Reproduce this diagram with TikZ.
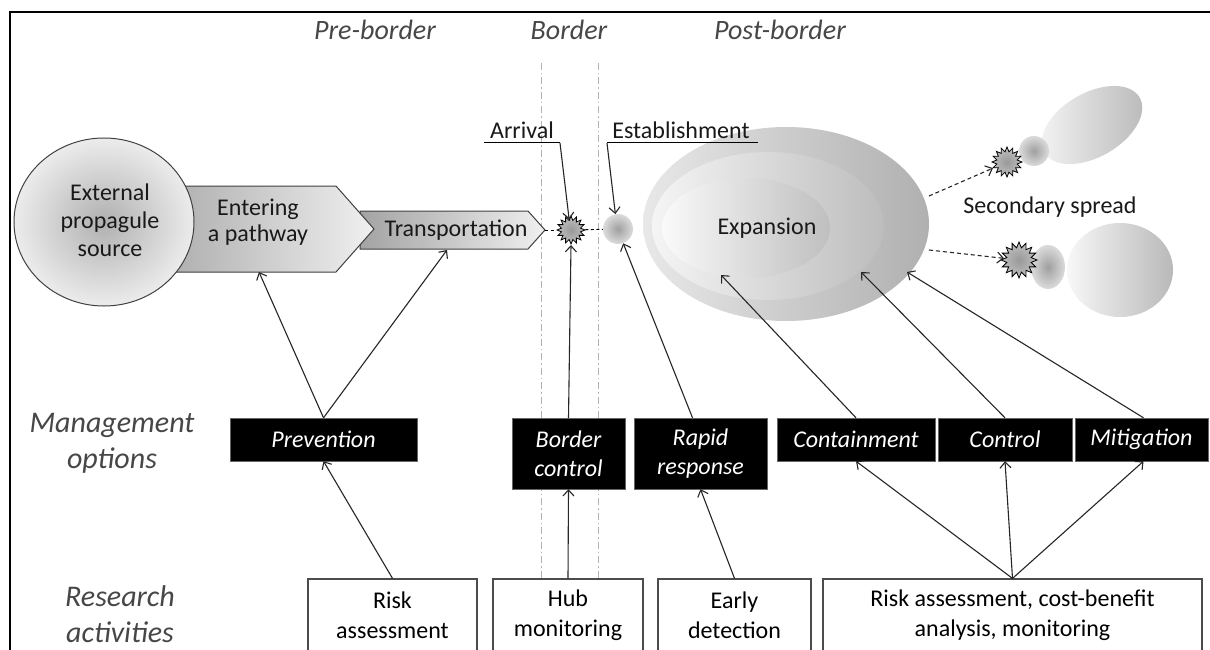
\documentclass[tikz,border=0pt]{standalone}
\usepackage{fontspec}
\setmainfont{Carlito}
\usetikzlibrary{arrows.meta,shapes.geometric}
\begin{document}
\begin{tikzpicture}[x=1pt,y=-1pt,
 conn/.style={line width=1.1pt, black!85, -{Straight Barb[length=6pt,width=11pt]}},
 dconn/.style={conn, dash pattern=on 4pt off 3pt},
 mgmt/.style={fill=black, draw=black!60, text=white, font=\fontsize{24}{29}\selectfont\itshape, align=center, inner sep=0pt},
 research/.style={draw=black!70, line width=1.2pt, fill=white, font=\fontsize{24}{30}\selectfont, align=center, inner sep=0pt},
 header/.style={text=black!72, font=\fontsize{28}{34}\selectfont\itshape},
 rowlabel/.style={text=black!72, font=\fontsize{30}{36}\selectfont\itshape, align=center},
 main/.style={font=\fontsize{24}{26}\selectfont, align=center, text=black!90},
 burst/.style={star, star points=16, star point ratio=1.45, draw=black, line width=0.8pt, shade, inner color=gray!80, outer color=gray!50, inner sep=0pt},
 blob/.style={inner sep=0pt, shade, inner color=gray!75, outer color=gray!28},
]
\useasboundingbox (0,0) rectangle (1210,650);
\fill[white] (0,0) rectangle (1210,650);
\clip (0,0) rectangle (1210,650);

% frame
\draw[line width=2.5pt] (10,650) -- (10,12) -- (1210,12);

% border lines
\draw[gray!60, line width=0.9pt, dash pattern=on 7pt off 3pt on 1.5pt off 3pt] (541,63) -- (541,579);
\draw[gray!60, line width=0.9pt, dash pattern=on 7pt off 3pt on 1.5pt off 3pt] (598,63) -- (598,579);

% headers
\node[header] (hpre) at (375,30) {Pre-border};
\node[header] (hbor) at (569,30) {Border};
\node[header] (hpost) at (780,30) {Post-border};

% transportation arrow shape
\shade[left color=gray!72, right color=gray!12, draw=black!75, line width=1pt]
  (360,211) -- (528,211) -- (545,230) -- (528,249) -- (360,249) -- cycle;
\coordinate (trtip) at (545,230);
\coordinate (trbot) at (447,250);
\node[main] (trtext) at (456,230) {Transportation};

% entering a pathway shape
\shade[left color=gray!68, right color=gray!12, draw=black!75, line width=1pt]
  (150,186) -- (336,186) -- (374,229) -- (336,272) -- (150,272) -- cycle;
\coordinate (entbot) at (259,272);
\node[main] (enttext) at (258,222) {Entering\\a pathway};

% external source
\node[ellipse, minimum width=180, minimum height=168, draw=black!75, line width=1pt, shade, inner color=gray!62, outer color=gray!15] (src) at (104,222) {};
\node[main, font=\fontsize{24}{28}\selectfont] (srctext) at (110,220) {External\\propagule\\source};

% expansion
\shade[left color=gray!18, right color=gray!62] (786,224) ellipse [x radius=143, y radius=97];
\shade[left color=gray!8, right color=gray!52] (768,226) ellipse [x radius=116, y radius=74];
\shade[left color=gray!4, right color=gray!50] (746,228) ellipse [x radius=84, y radius=50];
\node[main] (exp) at (767,228) {Expansion};
\coordinate (e1) at (721,275);
\coordinate (e2) at (861,272);
\coordinate (e3) at (907,272);

% arrival & establishment
\node[circle, minimum size=30, blob] (est) at (618,229) {};
\node[burst, minimum size=28] (arr) at (571,230) {};
\draw[line width=0.9pt, dash pattern=on 3pt off 2.5pt] (trtip) -- (arr);
\draw[line width=0.9pt, dash pattern=on 3pt off 2.5pt] (arr) -- (est);

\node[main] (arrl) at (522,130) {Arrival};
\coordinate (arrul0) at (484,143);
\coordinate (arrul) at (560,143);
\draw[line width=1pt] (arrul0) -- (arrul);
\draw[conn] (arrul) -- (arr.100);

\node[main] (estl) at (681,130) {Establishment};
\coordinate (estul) at (607,143);
\coordinate (estul1) at (758,143);
\draw[line width=1pt] (estul) -- (estul1);
\draw[conn] (estul) -- (est.100);

% secondary spread
\shade[rotate around={30:(1092,125)}, left color=gray!8, right color=gray!55] (1092,125) ellipse [x radius=55, y radius=32];
\shade[left color=gray!6, right color=gray!55] (1120,270) ellipse [x radius=53, y radius=47];
\node[circle, minimum size=30, blob] (s1c) at (1034,151) {};
\node[ellipse, minimum width=34, minimum height=44, blob] (s2c) at (1048,267) {};
\node[burst, minimum size=30] (s1) at (1007,162) {};
\node[burst, minimum size=36] (s2) at (1019,260) {};
\coordinate (sp1) at (929,196);
\coordinate (sp2) at (929,250);
\draw[dconn] (sp1) -- (s1);
\draw[dconn] (sp2) -- (s2);
\node[main] (sec) at (1050,207) {Secondary spread};

% row labels
\node[rowlabel] (mo) at (112,443) {Management\\options};
\node[rowlabel] (ra) at (120,614) {Research\\activities};

% management options
\node[mgmt, minimum width=187, minimum height=43] (prev) at (323.5,439.5) {Prevention};
\node[mgmt, minimum width=113, minimum height=71] (bc) at (568.5,453.5) {Border\\control};
\node[mgmt, minimum width=133, minimum height=71] (rr) at (700.5,453.5) {Rapid\\response};
\node[mgmt, minimum width=158, minimum height=43] (cont) at (856,439.5) {Containment};
\node[mgmt, minimum width=134, minimum height=43] (ctrl) at (1005,439.5) {Control};
\node[mgmt, minimum width=133, minimum height=43] (mit) at (1141.5,439.5) {Mitigation};

% research activities
\node[research, minimum width=169, minimum height=73] (risk) at (392.5,615.5) {Risk\\assessment};
\node[research, minimum width=150, minimum height=73] (hub) at (568,615.5) {Hub\\monitoring};
\node[research, minimum width=153, minimum height=73] (early) at (734.5,615.5) {Early\\detection};
\node[research, minimum width=379, minimum height=73] (rcb) at (1012.5,615.5) {Risk assessment, cost-benefit\\analysis, monitoring};

% connectors
\draw[conn] (prev.north) -- (entbot);
\draw[conn] (prev.north) -- (trbot);
\draw[conn] (risk.north) -- (prev.south);
\draw[conn] (hub.north) -- (bc.south);
\draw[conn] (bc.north) -- (arr.south);
\draw[conn] (early.north) -- (rr.south);
\draw[conn] ([xshift=-8pt]rr.north) -- (est.-70);
\draw[conn] (cont.north) -- (e1);
\draw[conn] (ctrl.north) -- (e2);
\draw[conn] ([xshift=2pt]mit.north) -- (e3);
\draw[conn] (rcb.north) -- (cont.south);
\draw[conn] (rcb.north) -- (ctrl.south);
\draw[conn] (rcb.north) -- ([xshift=2pt]mit.south);
\end{tikzpicture}
\end{document}
